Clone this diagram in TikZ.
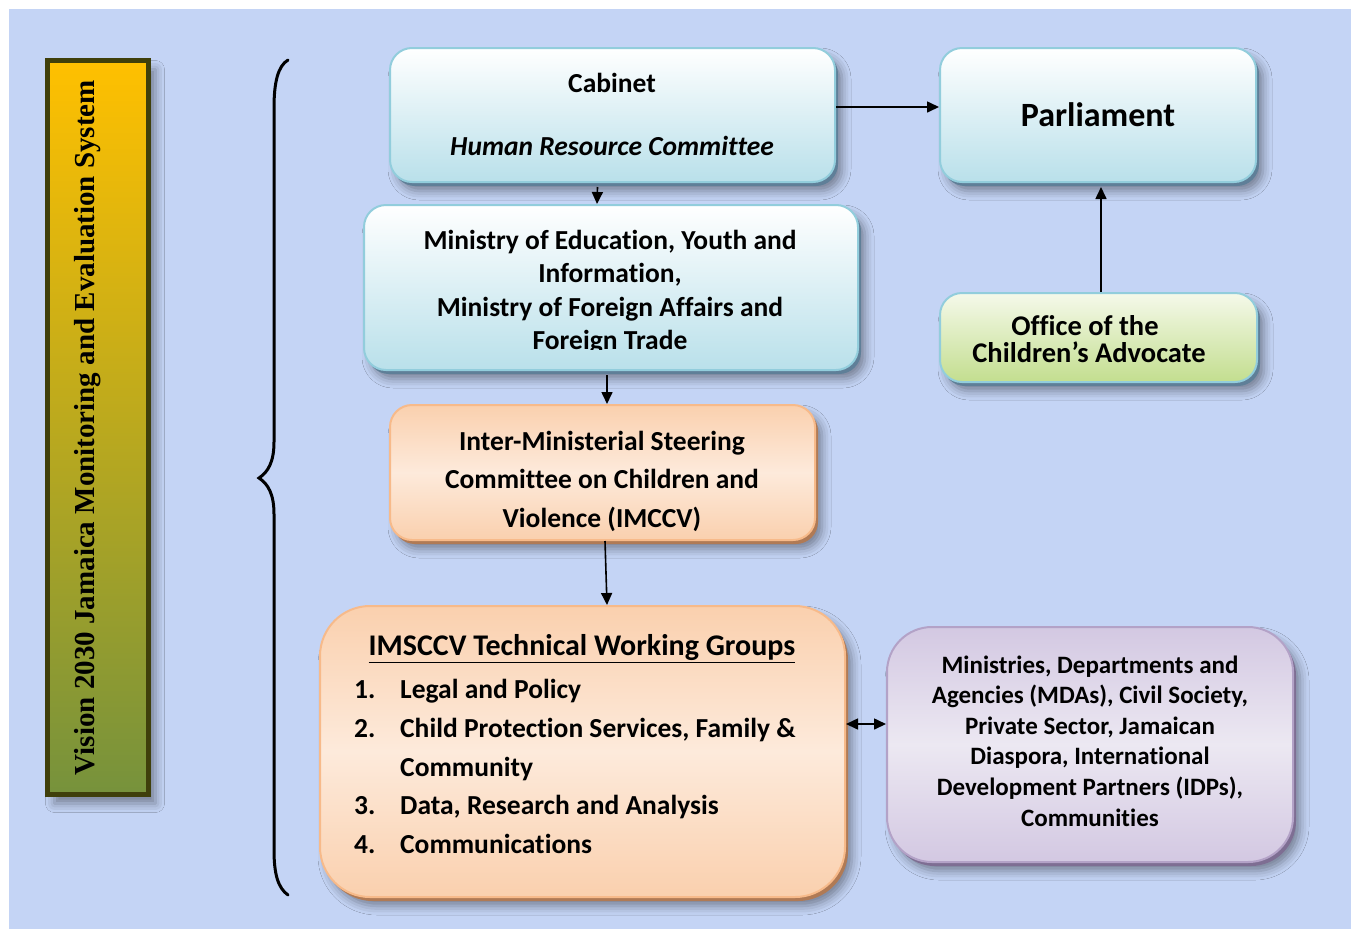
\documentclass[tikz,border=0pt]{standalone}
\usepackage{fontspec}
\setmainfont{Carlito}[Ligatures=NoCommon]
\newfontfamily\barfont{Liberation Serif}
\usetikzlibrary{shadows.blur,arrows.meta}

\definecolor{bgblue}{HTML}{C4D4F5}
\definecolor{bargold}{HTML}{FFC000}
\definecolor{bargreen}{HTML}{76923C}
\definecolor{barrim}{HTML}{3F3F0B}
\definecolor{tealrim}{HTML}{92CDDC}
\definecolor{cyanlow}{HTML}{B9E0EA}
\definecolor{blueedge}{HTML}{5F7F98}
\definecolor{greenlow}{HTML}{C3DE8F}
\definecolor{greentop}{HTML}{F5F9EA}
\definecolor{peachrim}{HTML}{F7BA8A}
\definecolor{peachdark}{HTML}{FAD0AE}
\definecolor{peachlight}{HTML}{FDEADB}
\definecolor{peachedge}{HTML}{B07A55}
\definecolor{lilacrim}{HTML}{B3A2C7}
\definecolor{lilacdark}{HTML}{D3C8E2}
\definecolor{lilaclight}{HTML}{ECE8F2}
\definecolor{lilacedge}{HTML}{7E6E93}

\tikzset{
  softshadow/.style={blur shadow={shadow xshift=7pt, shadow yshift=-9pt,
      shadow blur radius=9pt, shadow opacity=40}},
  boxbase/.style={rounded corners=22pt, line width=2pt, inner sep=0pt,
      softshadow, drop shadow={shadow xshift=3pt, shadow yshift=-4pt,
      fill=#1, opacity=1}},
  bluebox/.style={boxbase=blueedge, draw=tealrim, top color=white, bottom color=cyanlow},
  greenbox/.style={boxbase=blueedge, draw=tealrim, top color=greentop, bottom color=greenlow},
  peachbox/.style={boxbase=peachedge, draw=peachrim, top color=peachdark,
      bottom color=peachdark, middle color=peachlight},
  lilacbox/.style={boxbase=lilacedge, draw=lilacrim, top color=lilacdark,
      bottom color=lilacdark, middle color=lilaclight},
  txt/.style={font=\bfseries\fontsize{27.5}{33.5}\selectfont, align=center},
  arr/.style={-{Triangle[length=12pt,width=11pt]}, line width=1.6pt},
  dblarr/.style={{Triangle[length=12pt,width=11pt]}-{Triangle[length=12pt,width=11pt]}, line width=1.6pt},
}

\begin{document}
\begin{tikzpicture}[x=1pt,y=-1pt]
\useasboundingbox (0,0) rectangle (1351,929);
\fill[bgblue] (9,9) rectangle (1351,929);

% side bar with the system name
\node[draw=barrim, line width=5pt, top color=bargold, bottom color=bargreen,
      minimum width=101pt, minimum height=734pt, inner sep=0pt, softshadow]
      (bar) at (98,427.5) {};
\node[rotate=90, font=\barfont\bfseries\fontsize{29}{29}\selectfont]
      (barT) at (88,427.5) {Vision 2030 Jamaica Monitoring and Evaluation System};

% curly brace
\draw[line width=3pt, line cap=round]
  (288,60) .. controls (278,66) and (274,82) .. (274,108)
  -- (274,442) .. controls (274,462) and (268,472) .. (259,478)
  .. controls (268,484) and (274,494) .. (274,514)
  -- (274,850) .. controls (274,874) and (278,888) .. (288,895);

% boxes
\node[bluebox, minimum width=445pt, minimum height=134pt] (cab) at (612.5,115) {};
\node[txt] (cabT) at (612,83) {Cabinet};
\node[txt] (hrcT) at (612,146) {\itshape Human Resource Committee};

\node[bluebox, minimum width=316pt, minimum height=134pt] (parl) at (1098,115)
     {\bfseries\fontsize{34}{40}\selectfont Parliament};

\node[bluebox, minimum width=494pt, minimum height=165pt] (min) at (611,287.5) {};
\begin{scope}
  \clip (364,205) rectangle (858,349.5);
  \node[txt] (minT) at (610,292) {Ministry of Education, Youth and\\Information,\\
       Ministry of Foreign Affairs and\\Foreign Trade};
\end{scope}

\node[greenbox, minimum width=317pt, minimum height=89pt] (office) at (1098.5,337.5) {};
\node[font=\bfseries\fontsize{28.5}{27}\selectfont, align=center] (officeT) at (1089,339)
      {\hspace*{-8pt}Office of the\\Children’s Advocate};

\node[peachbox, minimum width=425pt, minimum height=135pt] (imccv) at (602.5,472.5) {};
\node[font=\bfseries\fontsize{27.5}{38.5}\selectfont, align=center] (imccvT) at (602,481)
      {Inter-Ministerial Steering\\Committee on Children and\\Violence (IMCCV)};

\node[peachbox, rounded corners=50pt, minimum width=525pt, minimum height=291pt]
      (twg) at (582.5,751.5) {};
\node[font=\bfseries\fontsize{30}{38.75}\selectfont] (twgH) at (582,649)
      {\underline{IMSCCV Technical Working Groups}};
\node[font=\bfseries\fontsize{27.5}{38.75}\selectfont, align=left, inner sep=0pt,
      anchor=north west] (twgL) at (354,679)
      {\makebox[46pt][l]{1.}Legal and Policy\\
       \makebox[46pt][l]{2.}Child Protection Services, Family \&\\
       \hspace*{46pt}Community\\
       \makebox[46pt][l]{3.}Data, Research and Analysis\\
       \makebox[46pt][l]{4.}Communications};

\node[lilacbox, rounded corners=45pt, minimum width=406pt, minimum height=235pt]
      (mda) at (1090,744.5) {};
\node[font=\bfseries\fontsize{25}{30.6}\selectfont, align=center] (mdaT) at (1090,741)
      {Ministries, Departments and\\Agencies (MDAs), Civil Society,\\Private Sector, Jamaican\\
       Diaspora, International\\Development Partners (IDPs),\\Communities};

% connectors
\draw[arr] ([yshift=8pt]cab.east) -- ([yshift=8pt]parl.west);
\draw[arr] ([xshift=-15pt,yshift=-4pt]cab.south) -- ([xshift=-14pt]min.north);
\draw[arr] ([xshift=-4pt,yshift=-4pt]min.south) -- ([xshift=4.5pt]imccv.north);
\draw[arr] ([xshift=2.5pt]imccv.south) -- ([xshift=24.5pt]twg.north);
\draw[arr] ([xshift=2.5pt]office.north) -- ([xshift=3pt,yshift=-4pt]parl.south);
\draw[dblarr] ([yshift=27.5pt]twg.east) -- ([yshift=20.5pt]mda.west);
\end{tikzpicture}
\end{document}
